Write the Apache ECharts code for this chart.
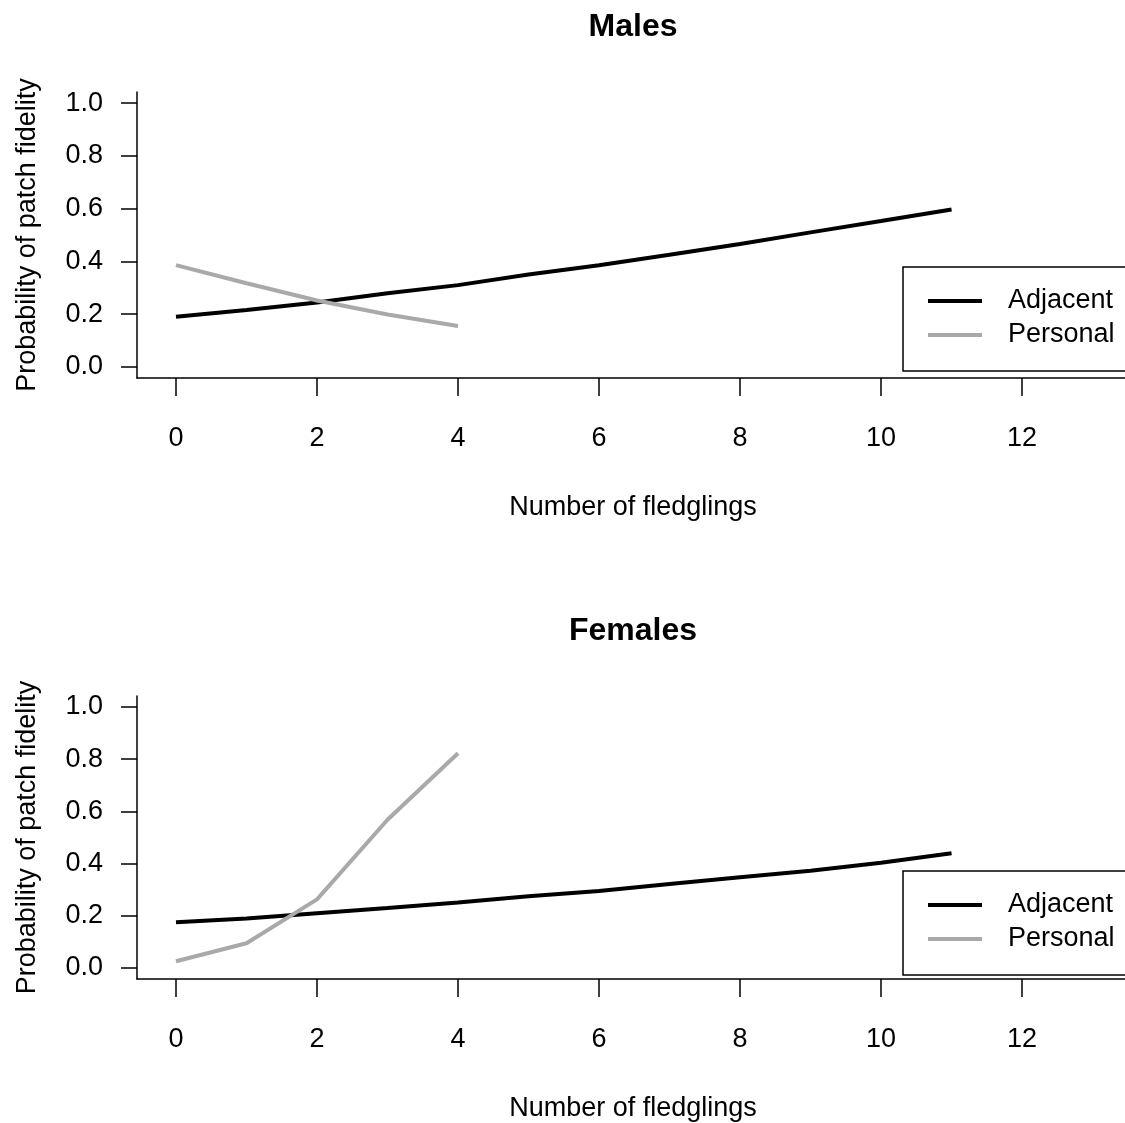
<!DOCTYPE html>
<html>
<head>
<meta charset="utf-8">
<script src="https://cdn.jsdelivr.net/npm/echarts@6/dist/echarts.min.js"></script>
<style>html,body{margin:0;padding:0;background:#fff}#c{width:1125px;height:1123px}</style>
</head>
<body>
<div id="c"></div>
<script>
// Data
var fledglingsAdjacent = [0,1,2,3,4,5,6,7,8,9,10,11];
var fledglingsPersonal = [0,1,2,3,4];
var malesAdjacent   = [0.19,0.216,0.244,0.279,0.31,0.35,0.385,0.425,0.466,0.51,0.553,0.597];
var malesPersonal   = [0.386,0.317,0.252,0.199,0.155];
var femalesAdjacent = [0.175,0.19,0.21,0.23,0.251,0.275,0.295,0.322,0.348,0.373,0.403,0.44];
var femalesPersonal = [0.026,0.095,0.263,0.568,0.823];
var xTicks = [0,2,4,6,8,10,12];
var yTicks = [0,0.2,0.4,0.6,0.8,1.0];
var panelTitles = ['Males','Females'];

function pairs(xs, ys){ return xs.map(function(x,i){ return [x, ys[i]]; }); }

var FONT = '"Liberation Sans", Arial, sans-serif';
var GRAY = '#a9a9a9';
var OFF = 604;

var grids = [], xAxes = [], yAxes = [], titles = [], legends = [], series = [];
var panelData = [[malesAdjacent, malesPersonal],[femalesAdjacent, femalesPersonal]];
for (var p = 0; p < 2; p++) {
  var dy = p * OFF;
  grids.push({left:137, right:0, top:92 + dy, height:286});
  xAxes.push({
    gridIndex:p, type:'value', min:-0.553, max:13.46,
    axisLine:{show:true, onZero:false, lineStyle:{color:'#000', width:1.5}},
    axisTick:{show:true, length:18, customValues:xTicks, lineStyle:{color:'#000', width:1.5}},
    axisLabel:{customValues:xTicks, fontSize:27, fontFamily:FONT, color:'#000', margin:47},
    splitLine:{show:false},
    name:'Number of fledglings', nameLocation:'middle', nameGap:116,
    nameTextStyle:{fontSize:27, fontFamily:FONT, color:'#000', padding:[0,0,0,4]}
  });
  yAxes.push({
    gridIndex:p, type:'value', min:-0.042, max:1.042,
    axisLine:{show:true, onZero:false, lineStyle:{color:'#000', width:1.5}},
    axisTick:{show:true, length:16, customValues:yTicks, lineStyle:{color:'#000', width:1.5}},
    axisLabel:{customValues:yTicks, fontSize:27, fontFamily:FONT, color:'#000', margin:34,
      formatter:function(v){ return (+v).toFixed(1); }},
    splitLine:{show:false},
    name:'Probability of patch fidelity', nameLocation:'middle', nameGap:96,
    nameTextStyle:{fontSize:27, fontFamily:FONT, color:'#000'}
  });
  titles.push({text:panelTitles[p], left:633, textAlign:'center', top:11 + dy, padding:0,
    textStyle:{fontSize:32, fontWeight:'bold', fontFamily:FONT, color:'#000'}});
  legends.push({
    orient:'vertical', left:903, top:267 + dy,
    data:[{name:'Adjacent'},{name:'Personal'}],
    icon:'rect',
    itemWidth:54, itemHeight:4, itemGap:4,
    padding:[19, 60, 21, 25],
    borderColor:'#000', borderWidth:1.5,
    selectedMode:false,
    textStyle:{fontSize:27, fontFamily:FONT, color:'#000', lineHeight:30, padding:[0,0,0,21]}
  });
  series.push({
    type:'line', name:'Adjacent', xAxisIndex:p, yAxisIndex:p,
    data:pairs(fledglingsAdjacent, panelData[p][0]),
    symbol:'none', showSymbol:false, silent:true, animation:false,
    lineStyle:{color:'#000', width:4}, itemStyle:{color:'#000'}
  });
  series.push({
    type:'line', name:'Personal', xAxisIndex:p, yAxisIndex:p,
    data:pairs(fledglingsPersonal, panelData[p][1]),
    symbol:'none', showSymbol:false, silent:true, animation:false,
    lineStyle:{color:GRAY, width:4}, itemStyle:{color:GRAY}
  });
}

var chart = echarts.init(document.getElementById('c'), null, {renderer:'canvas'});
chart.setOption({
  backgroundColor:'#fff', animation:false,
  title:titles, grid:grids, xAxis:xAxes, yAxis:yAxes, legend:legends, series:series
});
</script>
</body>
</html>
